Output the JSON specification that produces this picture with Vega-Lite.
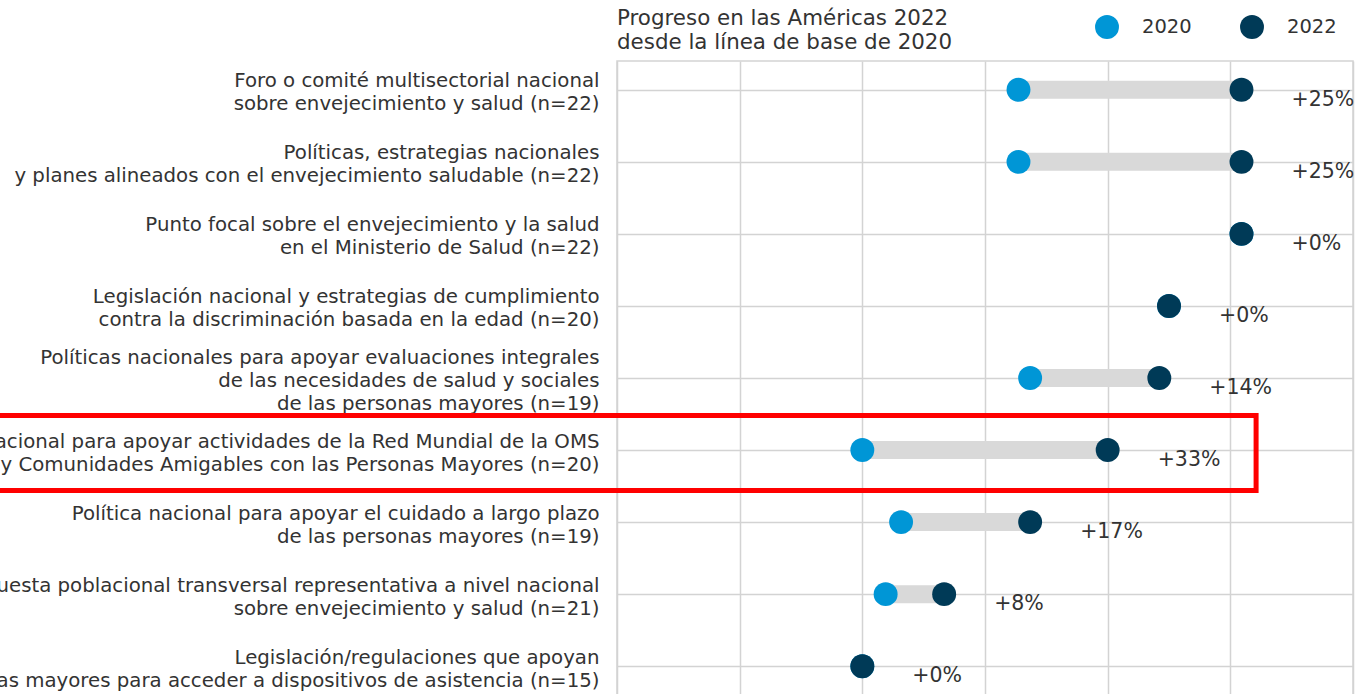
{
  "$schema": "https://vega.github.io/schema/vega-lite/v6.json",
  "autosize": {"type": "none"},
  "width": 736,
  "height": 634,
  "padding": {"left": 617, "top": 61, "right": 19, "bottom": 0},
  "background": "white",
  "config": {
    "font": "DejaVu Sans",
    "view": {"stroke": "#d3d3d3", "strokeWidth": 1.5},
    "axis": {"gridColor": "#d3d3d3", "gridWidth": 1.5, "domain": false, "ticks": false}
  },
  "title": {
    "text": ["Progreso en las Américas 2022", "desde la línea de base de 2020"],
    "anchor": "start",
    "frame": "group",
    "fontSize": 21.4,
    "fontWeight": "normal",
    "color": "#333333",
    "lineHeight": 24,
    "offset": 10,
    "dy": 48
  },
  "datasets": {
    "items": [
      {"item": "Foro o comité multisectorial nacional\u2005|sobre envejecimiento y salud (n=22)", "p2020": 72.73, "p2022": 90.91, "change": "+25%"},
      {"item": "Políticas, estrategias nacionales\u2005|y planes alineados con el envejecimiento saludable (n=22)", "p2020": 72.73, "p2022": 90.91, "change": "+25%"},
      {"item": "Punto focal sobre el envejecimiento y la salud\u2005|en el Ministerio de Salud (n=22)", "p2020": 90.91, "p2022": 90.91, "change": "+0%"},
      {"item": "Legislación nacional y estrategias de cumplimiento\u2005|contra la discriminación basada en la edad (n=20)", "p2020": 85.0, "p2022": 85.0, "change": "+0%"},
      {"item": "Políticas nacionales para apoyar evaluaciones integrales\u2005|de las necesidades de salud y sociales\u2005|de las personas mayores (n=19)", "p2020": 73.68, "p2022": 84.21, "change": "+14%"},
      {"item": "Política nacional para apoyar actividades de la Red Mundial de la OMS\u2005|de Ciudades y Comunidades Amigables con las Personas Mayores (n=20)", "p2020": 60.0, "p2022": 80.0, "change": "+33%"},
      {"item": "Política nacional para apoyar el cuidado a largo plazo\u2005|de las personas mayores (n=19)", "p2020": 63.16, "p2022": 73.68, "change": "+17%"},
      {"item": "Encuesta poblacional transversal representativa a nivel nacional\u2005|sobre envejecimiento y salud (n=21)", "p2020": 61.9, "p2022": 66.67, "change": "+8%"},
      {"item": "Legislación/regulaciones que apoyan\u2005|a las personas mayores para acceder a dispositivos de asistencia (n=15)", "p2020": 60.0, "p2022": 60.0, "change": "+0%"}
    ],
    "highlight": [
      {"item": "Política nacional para apoyar actividades de la Red Mundial de la OMS\u2005|de Ciudades y Comunidades Amigables con las Personas Mayores (n=20)", "x0": -20, "x1": 92.1}
    ]
  },
  "data": {"name": "items"},
  "encoding": {
    "y": {
      "field": "item",
      "type": "nominal",
      "sort": null,
      "scale": {"type": "point", "padding": 0.4},
      "axis": {
        "title": null,
        "grid": true,
        "labelExpr": "split(datum.label, '|')",
        "labelFontSize": 19.75,
        "labelColor": "#333333",
        "labelLineHeight": 23,
        "labelPadding": 18,
        "labelLimit": 0,
        "labelAlign": "right",
        "labelBaseline": "middle",
        "labelOffset": {
          "condition": {"test": "indexof(datum.value, 'sociales') >= 0", "value": -20.5},
          "value": -9
        }
      }
    }
  },
  "layer": [
    {
      "mark": {"type": "rule", "color": "#d9d9d9", "strokeWidth": 18, "strokeCap": "butt"},
      "encoding": {
        "x": {
          "field": "p2020",
          "type": "quantitative",
          "scale": {"domain": [40, 100], "nice": false, "zero": false},
          "axis": {"title": null, "labels": false, "grid": true, "values": [40, 50, 60, 70, 80, 90, 100]}
        },
        "x2": {"field": "p2022"}
      }
    },
    {
      "transform": [{"fold": ["p2020", "p2022"], "as": ["key", "value"]}],
      "mark": {"type": "circle", "size": 572, "opacity": 1},
      "encoding": {
        "x": {"field": "value", "type": "quantitative"},
        "color": {
          "field": "key",
          "type": "nominal",
          "scale": {"domain": ["p2020", "p2022"], "range": ["#0096D6", "#003A57"]},
          "legend": {
            "title": null,
            "orient": "none",
            "direction": "horizontal",
            "legendX": 478,
            "legendY": -46,
            "padding": 0,
            "labelExpr": "datum.value == 'p2020' ? '2020' : '2022'",
            "labelFontSize": 19.5,
            "labelColor": "#333333",
            "labelOffset": 23,
            "columnPadding": 48,
            "symbolType": "circle",
            "symbolSize": 572,
            "symbolStrokeWidth": 0,
            "symbolOpacity": 1
          }
        }
      }
    },
    {
      "mark": {"type": "text", "align": "left", "baseline": "middle", "dx": 50, "dy": 10, "fontSize": 20.5, "color": "#333333"},
      "encoding": {
        "x": {"field": "p2022", "type": "quantitative"},
        "text": {"field": "change"}
      }
    },
    {
      "data": {"name": "highlight"},
      "mark": {"type": "rect", "fill": null, "fillOpacity": 0, "stroke": "#ff0000", "strokeWidth": 5, "height": 75, "yOffset": 3},
      "encoding": {
        "x": {"field": "x0", "type": "quantitative"},
        "x2": {"field": "x1"},
        "y": {"field": "item", "type": "nominal", "sort": null}
      }
    }
  ]
}
